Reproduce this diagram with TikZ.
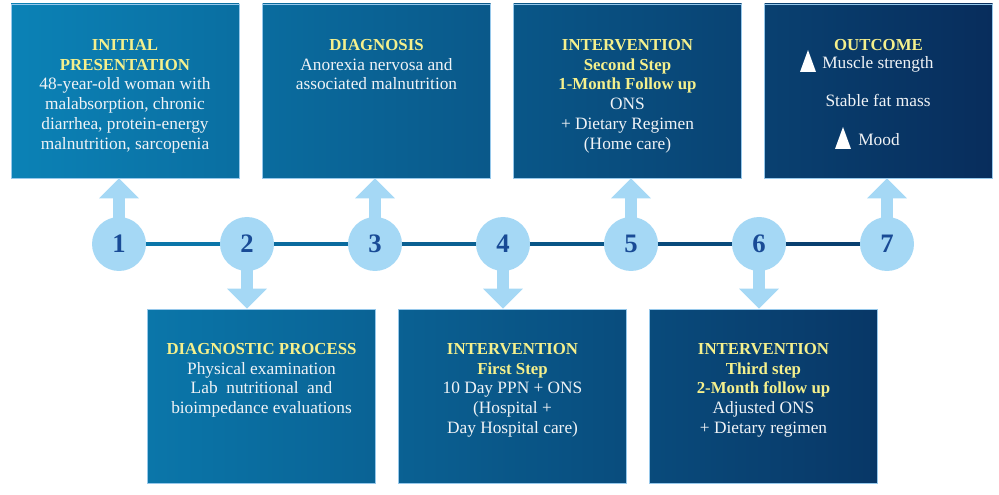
\documentclass[tikz,border=0pt]{standalone}
\usepackage{fontspec}
\setmainfont{Liberation Serif}
\usetikzlibrary{arrows.meta}
\definecolor{boxL}{RGB}{11,130,182}
\definecolor{boxR}{RGB}{8,45,92}
\definecolor{circ}{RGB}{165,216,245}
\definecolor{numc}{RGB}{25,75,150}
\definecolor{titley}{RGB}{245,240,140}
\definecolor{bodyw}{RGB}{240,243,246}
\definecolor{edge}{RGB}{150,200,235}
\newcommand\hd[1]{{\color{titley}\bfseries\fontsize{12.6}{14.8}\selectfont #1}}
\begin{document}
\begin{tikzpicture}[x=0.75pt,y=-0.75pt,
  panel/.style={draw=edge, line width=0.6pt, minimum width=171pt, minimum height=130.5pt, inner sep=0pt},
  txt/.style={anchor=north, align=center, inner sep=0pt, text=bodyw, font=\fontsize{13}{14.8}\selectfont},
  arr/.style={draw=circ, line width=9pt, -{Triangle[width=29pt,length=15pt]}},
  num/.style={circle, fill=circ, minimum size=40.5pt, inner sep=0pt, text=numc, font=\fontsize{20}{20}\selectfont\bfseries},
  seg/.style={line width=3pt}]
\useasboundingbox (0,0) rectangle (999,495);
% top boxes
\node[panel, left color=boxL, right color=boxL!77!boxR] (b1) at (125,91) {};
\node[panel, left color=boxL!74!boxR, right color=boxL!51!boxR] (b2) at (376.5,91) {};
\node[panel, left color=boxL!49!boxR, right color=boxL!26!boxR] (b3) at (627.5,91) {};
\node[panel, left color=boxL!23!boxR, right color=boxR] (b4) at (878.5,91) {};
% bottom boxes
\node[panel, left color=boxL!86!boxR, right color=boxL!63!boxR] (b5) at (261.5,396) {};
\node[panel, left color=boxL!61!boxR, right color=boxL!37!boxR] (b6) at (512.5,396) {};
\node[panel, left color=boxL!35!boxR, right color=boxL!12!boxR] (b7) at (763.5,396) {};
% texts
\node[txt] (t1) at (125,39) {\hd{INITIAL}\\\hd{PRESENTATION}\\48-year-old woman with\\malabsorption, chronic\\diarrhea, protein-energy\\malnutrition, sarcopenia};
\node[txt] (t2) at (376.5,39) {\hd{DIAGNOSIS}\\Anorexia nervosa and\\associated malnutrition};
\node[txt] (t3) at (627.5,39) {\hd{INTERVENTION}\\\hd{Second Step}\\\hd{1-Month Follow up}\\ONS\\+ Dietary Regimen\\(Home care)};
\node[txt] (t4) at (878.5,39) {\hd{OUTCOME}};
\node[anchor=base west, inner sep=0pt, text=bodyw, font=\fontsize{13}{14.8}\selectfont] (t4a) at (822,69) {Muscle strength};
\node[anchor=base, inner sep=0pt, text=bodyw, font=\fontsize{13}{14.8}\selectfont] (t4b) at (878,107) {Stable fat mass};
\node[anchor=base west, inner sep=0pt, text=bodyw, font=\fontsize{13}{14.8}\selectfont] (t4c) at (858,146) {Mood};
\fill[white] (800,72) -- (816,72) -- (808,50) -- cycle;
\fill[white] (835,149) -- (851,149) -- (843,127) -- cycle;
\node[txt] (t5) at (261.5,343) {\hd{DIAGNOSTIC PROCESS}\\Physical examination\\Lab\ \ nutritional\ \ and\\bioimpedance evaluations};
\node[txt] (t6) at (512.5,343) {\hd{INTERVENTION}\\\hd{First Step}\\10 Day PPN + ONS\\(Hospital +\\Day Hospital care)};
\node[txt] (t7) at (763.5,343) {\hd{INTERVENTION}\\\hd{Third step}\\\hd{2-Month follow up}\\Adjusted ONS\\+ Dietary regimen};
% circle positions
\coordinate (p1) at (119,244);
\coordinate (p2) at (247,244);
\coordinate (p3) at (375,244);
\coordinate (p4) at (503,244);
\coordinate (p5) at (631,244);
\coordinate (p6) at (759,244);
\coordinate (p7) at (887,244);
% arrows
\draw[arr] (p1) -- (p1 |- b1.south);
\draw[arr] (p3) -- (p3 |- b2.south);
\draw[arr] (p5) -- (p5 |- b3.south);
\draw[arr] (p7) -- (p7 |- b4.south);
\draw[arr] (p2) -- (p2 |- b5.north);
\draw[arr] (p4) -- (p4 |- b6.north);
\draw[arr] (p6) -- (p6 |- b7.north);
% circles
\node[num] (n1) at (p1) {1};
\node[num] (n2) at (p2) {2};
\node[num] (n3) at (p3) {3};
\node[num] (n4) at (p4) {4};
\node[num] (n5) at (p5) {5};
\node[num] (n6) at (p6) {6};
\node[num] (n7) at (p7) {7};
% timeline
\draw[seg, draw=boxL!86!boxR] (n1) -- (n2);
\draw[seg, draw=boxL!73!boxR] (n2) -- (n3);
\draw[seg, draw=boxL!60!boxR] (n3) -- (n4);
\draw[seg, draw=boxL!47!boxR] (n4) -- (n5);
\draw[seg, draw=boxL!34!boxR] (n5) -- (n6);
\draw[seg, draw=boxL!21!boxR] (n6) -- (n7);
\end{tikzpicture}
\end{document}
